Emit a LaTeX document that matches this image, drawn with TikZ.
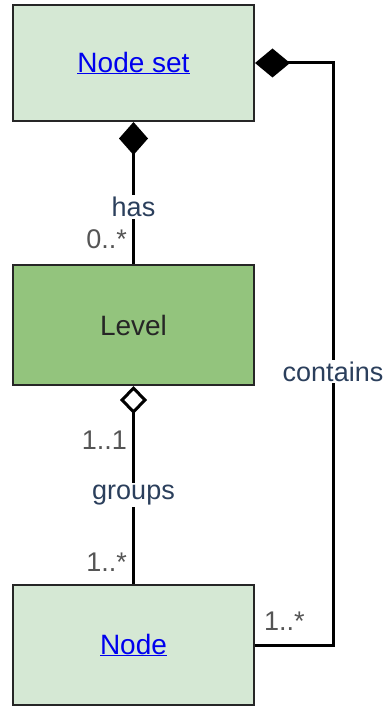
\documentclass[tikz,border=0pt]{standalone}
\usepackage{fontspec}
\setmainfont{Liberation Sans}
\usetikzlibrary{arrows.meta}
\definecolor{lightg}{HTML}{D5E8D4}
\definecolor{levelg}{HTML}{93C47D}
\definecolor{lbl}{HTML}{2B3F5C}
\definecolor{mult}{HTML}{555555}
\definecolor{linkc}{HTML}{0000EE}
\tikzset{
  cls/.style={draw=black!85, line width=2pt, minimum width=241pt, minimum height=118pt, inner sep=0pt, font=\fontsize{28}{32}\selectfont},
  conn/.style={line width=3pt, black},
  lab/.style={fill=white, text=lbl, inner sep=2pt, font=\fontsize{27}{31}\selectfont},
  multl/.style={text=mult, inner sep=0pt, font=\fontsize{27}{31}\selectfont},
  link/.style={text=linkc}
}
\begin{document}
\begin{tikzpicture}[x=1pt,y=-1pt]
\useasboundingbox (0,0) rectangle (387,706);
\node[cls, fill=lightg, minimum height=116pt, link] (ns) at (133.5,63) {\raisebox{-3.5pt}{\underline{Node set}}};
\node[cls, fill=levelg, minimum height=120pt, text=black!85] (lv) at (133.5,325) {\raisebox{-3.5pt}{Level}};
\node[cls, fill=lightg, minimum height=120pt, link] (nd) at (133.5,645) {\raisebox{-3.5pt}{\underline{Node}}};
% has
\draw[conn, {Diamond[length=33pt,width=29pt]}-] (ns.south) -- node[lab, pos=0.6] (has) {has} (lv.north);
\node[multl, anchor=east] (m1) at (127,239) {0..*};
% groups
\draw[conn, {Diamond[open,fill=white,length=28pt,width=27pt]}-] (lv.south) -- node[lab, pos=0.55] (grp) {groups} (nd.north);
\node[multl, anchor=east] (m2) at (127,440) {1..1};
\node[multl, anchor=east] (m3) at (127,562) {1..*};
% contains
\coordinate (xr) at (333,0);
\draw[conn, {Diamond[length=35pt,width=29pt]}-] (ns.east) -- (ns.east -| xr) -- node[lab, pos=0.53] (cont) {contains} (nd.east -| xr) -- (nd.east);
\node[multl, anchor=west] (m4) at (264,621) {1..*};
\end{tikzpicture}
\end{document}
